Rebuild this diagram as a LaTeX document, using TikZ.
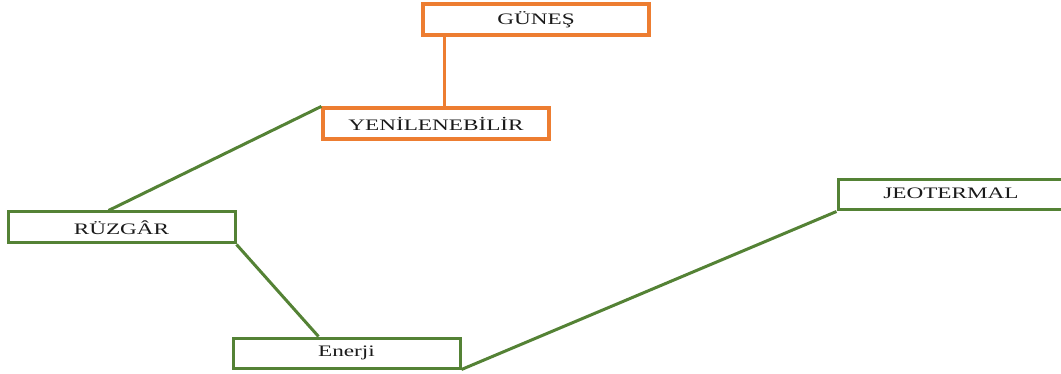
\documentclass[tikz,border=0pt]{standalone}
\usepackage{fontspec}
\usepackage{graphicx}
\setmainfont{Liberation Serif}
\definecolor{boxorange}{HTML}{ED7D31}
\definecolor{boxgreen}{HTML}{548235}
\definecolor{txt}{HTML}{1A1A1A}
\newcommand{\wide}[1]{\scalebox{1.45}[1]{#1}}
\tikzset{
  base/.style={draw, rectangle, fill=white, minimum width=226pt, minimum height=31pt, inner sep=0pt,
    font=\fontsize{16}{18}\selectfont, text=txt},
  obox/.style={base, draw=boxorange, line width=3.2pt},
  gbox/.style={base, draw=boxgreen, line width=3pt},
  olink/.style={draw=boxorange, line width=3.2pt},
  glink/.style={draw=boxgreen, line width=3pt},
}
\begin{document}
\begin{tikzpicture}[x=1pt,y=-1pt]
\useasboundingbox (0,0) rectangle (1061,374);
\begin{scope}
\clip (0,0) rectangle (1061,374);
\node[obox] (gunes) at (536,19.5) {\wide{GÜNEŞ}};
\node[obox] (yen) at (436,123.5) {\wide{YENİLENEBİLİR}};
\node[gbox, minimum width=227pt] (ruz) at (121.5,227.5) {\wide{RÜZGÂR}};
\node[gbox, minimum width=227pt, minimum height=30pt] (en) at (346.5,353) {\wide{Enerji}};
\node[gbox, minimum width=226pt, minimum height=30pt] (jeo) at (951,195) {\raisebox{3pt}{\wide{JEOTERMAL}}};
\draw[olink] ([xshift=23pt]gunes.south west) -- ([xshift=23pt]gunes.south west |- yen.north);
\draw[glink] (yen.north west) -- ([xshift=102pt]ruz.north west);
\draw[glink] (ruz.south east) -- ([xshift=87pt]en.north west);
\draw[glink] (en.south east) -- (jeo.south west);
\end{scope}
\end{tikzpicture}
\end{document}
